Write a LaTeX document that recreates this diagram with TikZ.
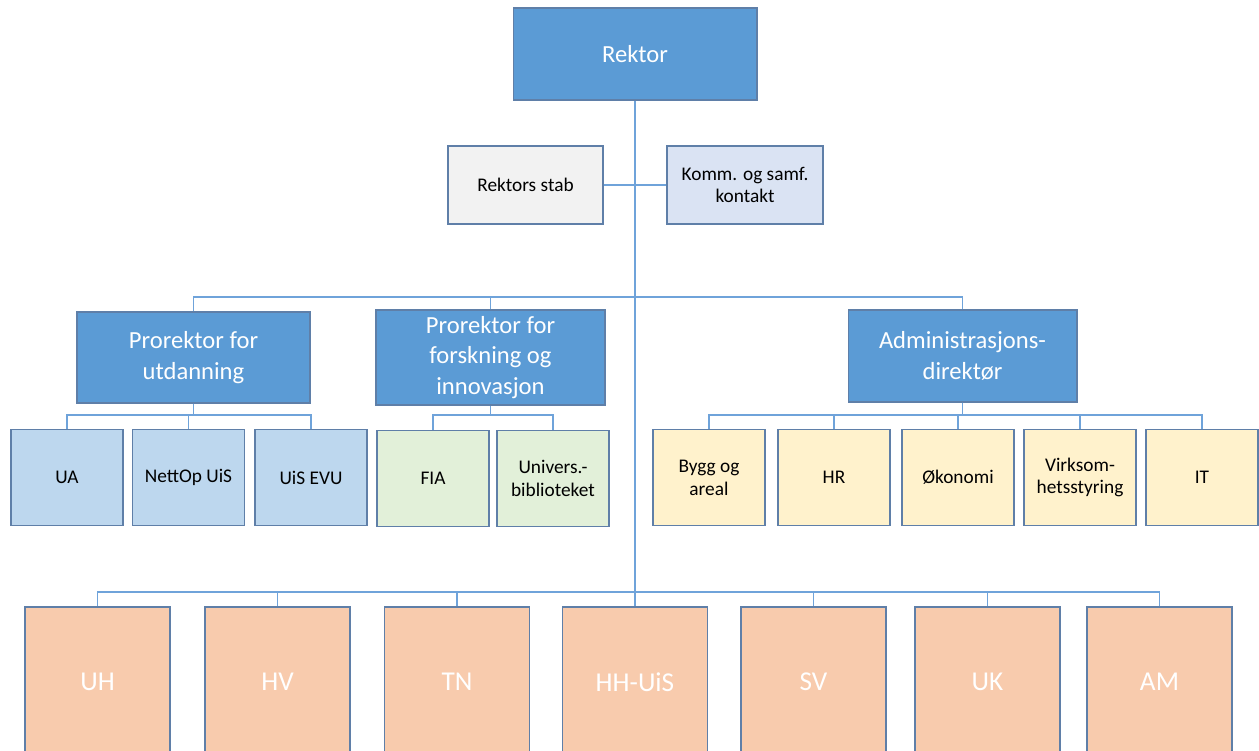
\documentclass[tikz,border=0pt]{standalone}
\usepackage{fontspec}
\setmainfont{Carlito}
\usepackage{tikz}

\definecolor{topblue}{HTML}{5B9BD5}
\definecolor{edgeblue}{HTML}{5F7FA8}
\definecolor{lineblue}{HTML}{6FA3DA}
\definecolor{stabgrey}{HTML}{F2F2F2}
\definecolor{kommblue}{HTML}{DAE3F3}
\definecolor{utdblue}{HTML}{BDD7EE}
\definecolor{forskgreen}{HTML}{E2F0D9}
\definecolor{admyellow}{HTML}{FFF2CC}
\definecolor{facorange}{HTML}{F8CBAD}

\tikzset{
  box/.style={draw=edgeblue,line width=0.6pt,inner sep=0pt,align=center},
  lead/.style={box,fill=topblue,text=white,font=\fontsize{14}{17.5}\selectfont},
  unit/.style={box,font=\fontsize{11}{13}\selectfont,minimum width=2.24cm,minimum height=1.92cm},
  fac/.style={box,fill=facorange,text=white,font=\fontsize{15.5}{18}\selectfont,minimum width=2.9cm,minimum height=3cm},
  link/.style={draw=lineblue,line width=0.8pt}
}

\begin{document}
\begin{tikzpicture}[x=0.02cm,y=-0.02cm]
\clip (0,0) rectangle (1259,751);
\fill[white] (0,0) rectangle (1259,751);

\node[lead,minimum width=4.88cm,minimum height=1.84cm] (rektor) at (635,54) {Rektor};
\node[unit,fill=stabgrey,minimum width=3.1cm,minimum height=1.56cm] (stab) at (525.5,185) {Rektors stab};
\node[unit,fill=kommblue,minimum width=3.12cm,minimum height=1.56cm] (komm) at (745,185) {Komm. og samf.\\kontakt};

\node[lead,minimum width=4.66cm,minimum height=1.82cm] (prutd) at (193.5,357.5) {Prorektor for\\utdanning};
\node[lead,minimum width=4.58cm,minimum height=1.9cm] (prforsk) at (490.5,357.5) {Prorektor for\\forskning og\\innovasjon};
\node[lead,minimum width=4.58cm,minimum height=1.84cm] (admdir) at (962.5,356) {Administrasjons-\\direktør};

\node[unit,fill=utdblue] (ua) at (67,477.5) {UA};
\node[unit,fill=utdblue] (nettop) at (188.5,477.5) {NettOp UiS};
\node[unit,fill=utdblue] (evu) at (311,477.5) {UiS EVU};
\node[unit,fill=forskgreen] (fia) at (433,478.5) {FIA};
\node[unit,fill=forskgreen] (ubib) at (553,478.5) {Univers.-\\biblioteket};

\node[unit,fill=admyellow] (bygg) at (709,477.5) {Bygg og\\areal};
\node[unit,fill=admyellow] (hr) at (834,477.5) {HR};
\node[unit,fill=admyellow] (okonomi) at (958,477.5) {Økonomi};
\node[unit,fill=admyellow] (virk) at (1080,477.5) {Virksom-\\hetsstyring};
\node[unit,fill=admyellow] (it) at (1202,477.5) {IT};

\node[fac] (uh) at (97.5,682) {UH};
\node[fac] (hv) at (277.5,682) {HV};
\node[fac] (tn) at (457,682) {TN};
\node[fac] (hhuis) at (635,682) {HH-UiS};
\node[fac] (sv) at (813.5,682) {SV};
\node[fac] (uk) at (987.5,682) {UK};
\node[fac] (am) at (1159.5,682) {AM};

% bars
\coordinate (staff) at (635,297);
\coordinate (fbar) at (635,592);
\coordinate (ubar) at (0,415);

% trunk
\path[link] (rektor.south) -- (hhuis.north);
\path[link] (stab.east) -- (komm.west);

% prorektorer
\foreach \n in {prutd,prforsk,admdir}
  \path[link] (\n.north) -- (\n.north |- staff) -- (staff);

% underenheter
\foreach \p/\c in {prutd/ua,prutd/nettop,prutd/evu,prforsk/fia,prforsk/ubib,
                   admdir/bygg,admdir/hr,admdir/okonomi,admdir/virk,admdir/it}
  \path[link] (\p.south) -- (\p.south |- ubar) -- (\c.north |- ubar) -- (\c.north);

% fakulteter
\foreach \n in {uh,hv,tn,sv,uk,am}
  \path[link] (\n.north) -- (\n.north |- fbar) -- (fbar);
\end{tikzpicture}
\end{document}
